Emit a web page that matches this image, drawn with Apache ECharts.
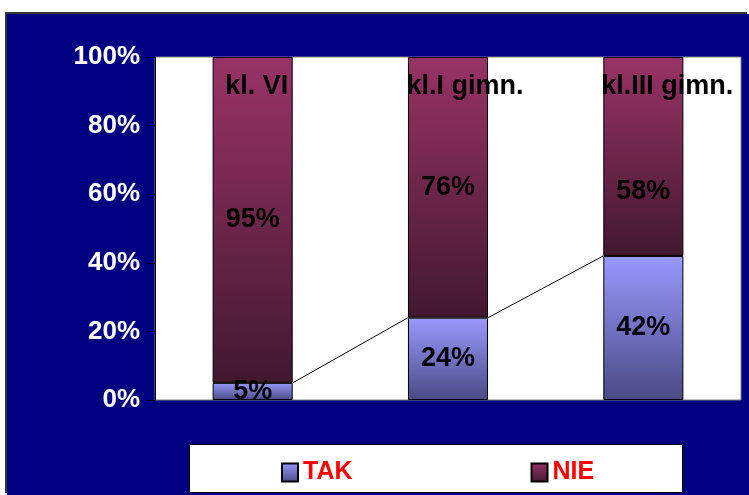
<!DOCTYPE html>
<html lang="pl">
<head>
    <meta charset="UTF-8">
    <title>TAK / NIE</title>
    <style>
      * { padding: 0; margin: 0; }
      body { background: #fff; width: 749px; height: 495px; position: relative; overflow: hidden; }
      #main { position: absolute; left: 7px; top: 14px; width: 742px; height: 481px; box-shadow: -2px -2px 0 #333; }
    </style>
</head>
<body>
    <div id="main"></div>
    <script src="https://cdn.jsdelivr.net/npm/echarts@6/dist/echarts.min.js"></script>
    <script>
    // dane
    var categories = ['kl. VI', 'kl.I gimn.', 'kl.III gimn.'];
    var tak = [5, 24, 42];
    var nie = [95, 76, 58];
    var yTicks = [0, 20, 40, 60, 80, 100];

    var font = '"Liberation Sans", Arial, sans-serif';
    var barRatio = 0.41;

    // przesuniecia etykiet (px)
    var nieLabelShift = [0, 0, 35];
    var catLabelShift = [4, 17, 24];

    var nieColor = new echarts.graphic.LinearGradient(0, 0, 0, 1, [
        { offset: 0, color: '#993366' },
        { offset: 1, color: '#42182f' }
    ]);
    var takColor = new echarts.graphic.LinearGradient(0, 0, 0, 1, [
        { offset: 0, color: '#9999ff' },
        { offset: 1, color: '#4a4a85' }
    ]);

    var valueLabel = {
        show: true,
        position: 'inside',
        color: '#000',
        textBorderWidth: 0,
        fontFamily: font,
        fontWeight: 'bold',
        fontSize: 27,
        formatter: function (p) { return p.value + '%'; }
    };

    option = {
        backgroundColor: '#000080',
        animation: false,
        grid: {
            left: 148, right: 8, top: 43, bottom: 95,
            show: true, backgroundColor: '#fff', borderColor: '#808080', borderWidth: 1
        },
        graphic: [{
            type: 'rect',
            left: 182, top: 430,
            shape: { width: 493, height: 48 },
            style: { fill: '#fff', stroke: '#000', lineWidth: 1 },
            z: 0
        }],
        legend: {
            data: ['TAK', 'NIE'],
            left: 269, top: 441,
            icon: 'rect',
            itemWidth: 16, itemHeight: 18, itemGap: 178,
            textStyle: { color: '#ff0000', fontFamily: font, fontWeight: 'bold', fontSize: 25 },
            z: 5
        },
        xAxis: {
            type: 'category',
            data: categories,
            axisLine: { show: false },
            axisTick: { show: false },
            axisLabel: { show: false }
        },
        yAxis: {
            type: 'value',
            min: yTicks[0], max: yTicks[yTicks.length - 1], interval: 20,
            splitLine: { show: false },
            axisLine: { show: true, lineStyle: { color: '#000' } },
            axisTick: { show: true, length: 8, lineStyle: { color: '#000' } },
            axisLabel: {
                color: '#fff', fontFamily: font, fontWeight: 'bold', fontSize: 26, margin: 15,
                formatter: '{value}%'
            }
        },
        series: [
            {
                name: 'TAK', type: 'bar', stack: 'a', barWidth: (barRatio * 100) + '%',
                data: tak,
                itemStyle: { color: takColor, borderColor: '#000', borderWidth: 1 },
                label: valueLabel
            },
            {
                name: 'NIE', type: 'bar', stack: 'a', barWidth: (barRatio * 100) + '%',
                data: nie.map(function (v, i) {
                    return { value: v, label: { offset: [0, nieLabelShift[i]] } };
                }),
                itemStyle: { color: nieColor, borderColor: '#000', borderWidth: 1 },
                label: valueLabel
            },
            {
                // linie laczace slupki TAK
                name: 'linie', type: 'custom',
                data: tak.map(function (v, i) { return [i, v]; }),
                renderItem: function (params, api) {
                    var i = params.dataIndex;
                    if (i >= tak.length - 1) return;
                    var a = api.coord([i, tak[i]]);
                    var b = api.coord([i + 1, tak[i + 1]]);
                    var half = api.size([1, 0])[0] * barRatio / 2;
                    return {
                        type: 'line',
                        shape: { x1: a[0] + half, y1: a[1], x2: b[0] - half, y2: b[1] },
                        style: { stroke: '#000', lineWidth: 1 }
                    };
                },
                z: 3
            },
            {
                // nazwy klas
                name: 'klasy', type: 'scatter', symbolSize: 0,
                data: categories.map(function (c, i) {
                    return { value: 91.5, label: { offset: [catLabelShift[i], 0] } };
                }),
                label: {
                    show: true, position: 'inside', color: '#000', opacity: 1,
                    textBorderWidth: 0,
                    fontFamily: font, fontWeight: 'bold', fontSize: 27,
                    formatter: function (p) { return categories[p.dataIndex]; }
                },
                itemStyle: { opacity: 1 },
                z: 4
            }
        ]
    };

    var myChart = echarts.init(document.getElementById('main'));
    myChart.setOption(option);
    </script>
</body>
</html>
